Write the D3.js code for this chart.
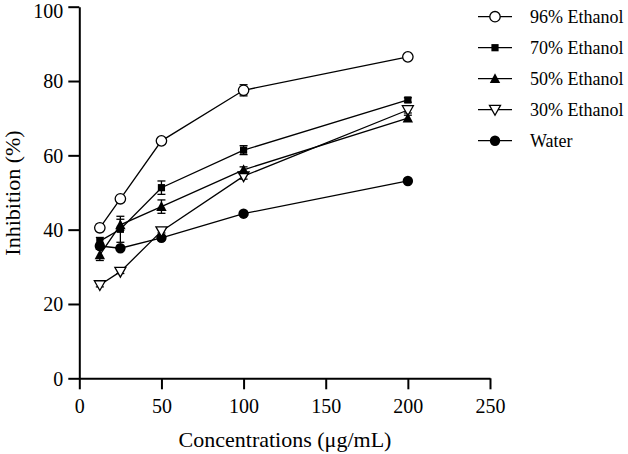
<!DOCTYPE html>
<html><head><meta charset="utf-8">
<script src="https://cdn.jsdelivr.net/npm/d3@7"></script>
<style>body{margin:0;background:#fff}svg{display:block}</style>
</head><body>
<script>
const concentrations = [12.5, 25, 50, 100, 200];
const seriesNames = ["96% Ethanol", "70% Ethanol", "50% Ethanol", "30% Ethanol", "Water"];
const eth96 = [40.5, 48.3, 63.9, 77.5, 86.5];
const eth70 = [36.9, 40.1, 51.3, 61.4, 74.9];
const eth50 = [33.2, 41.3, 46.2, 56.1, 70.0];
const eth30 = [25.1, 28.7, 39.6, 54.4, 72.2];
const water = [35.6, 35.0, 37.8, 44.3, 53.1];
const err96 = [1.0, 0.8, 0.8, 1.5, 0.6];
const err70 = [1.0, 3.5, 1.8, 1.2, 0.6];
const err50 = [1.5, 1.5, 1.8, 0.8, 0.8];
const err30 = [0.5, 0.5, 0.5, 0.8, 0.8];
const errW = [0.8, 0.5, 0.6, 0.5, 0.5];
const xTicks = [0, 50, 100, 150, 200, 250];
const yTicks = [0, 20, 40, 60, 80, 100];
const markers = ["circleOpen", "square", "triangle", "triangleDownOpen", "circle"];

const FONT = '"Liberation Serif","Times New Roman",serif';
const W = 628, H = 454;
const svg = d3.select("body").append("svg").attr("width", W).attr("height", H)
  .style("font-family", FONT);
const x = d3.scaleLinear().domain([0, 250]).range([79.3, 490]);
const y = d3.scaleLinear().domain([0, 100]).range([378.3, 6.7]);

const xa = svg.append("g").attr("transform", `translate(0,${y(0)})`)
  .call(d3.axisBottom(x).tickValues(xTicks).tickSize(11).tickPadding(10).tickSizeOuter(0));
const ya = svg.append("g").attr("transform", `translate(${x(0)},0)`)
  .call(d3.axisLeft(y).tickValues(yTicks).tickSize(11).tickPadding(5).tickSizeOuter(0));
[xa, ya].forEach(a => {
  a.attr("font-family", null).attr("font-size", null);
  a.selectAll("path,line").attr("stroke", "#000").attr("stroke-width", 2);
  a.selectAll("text").style("font-family", FONT).style("font-size", "20px").attr("fill", "#000");
});
ya.selectAll("text").attr("dy", "0.34em");
ya.selectAll(".tick").filter(d => d === 100).select("text").attr("dy", "0.52em");

svg.append("text").attr("x", 285).attr("y", 447).attr("text-anchor", "middle")
  .style("font-family", FONT).style("font-size", "22px").text("Concentrations (μg/mL)");
svg.append("text").attr("transform", "translate(20,193) rotate(-90)").attr("text-anchor", "middle")
  .style("font-family", FONT).style("font-size", "22px").text("Inhibition (%)");

function drawMarker(g, type, cx, cy) {
  if (type === "circleOpen") g.append("circle").attr("cx", cx).attr("cy", cy).attr("r", 5.2).attr("fill", "#fff").attr("stroke", "#000").attr("stroke-width", 1.3);
  else if (type === "circle") g.append("circle").attr("cx", cx).attr("cy", cy).attr("r", 5.2).attr("fill", "#000");
  else if (type === "square") g.append("rect").attr("x", cx - 3.6).attr("y", cy - 3.6).attr("width", 7.2).attr("height", 7.2).attr("fill", "#000");
  else if (type === "triangle") g.append("path").attr("d", `M${cx},${cy - 5.5} L${cx + 5.2},${cy + 4.3} L${cx - 5.2},${cy + 4.3}Z`).attr("fill", "#000");
  else if (type === "triangleDownOpen") g.append("path").attr("d", `M${cx - 5.5},${cy - 4.3} L${cx + 5.5},${cy - 4.3} L${cx},${cy + 5.5}Z`).attr("fill", "#fff").attr("stroke", "#000").attr("stroke-width", 1.3);
}

const allSeries = [eth96, eth70, eth50, eth30, water];
const allErr = [err96, err70, err50, err30, errW];
const line = d3.line().x((d, i) => x(concentrations[i])).y(d => y(d));
const plot = svg.append("g");
[4, 3, 2, 1, 0].forEach(s => {
  const g = plot.append("g");
  g.append("path").datum(allSeries[s]).attr("d", line).attr("fill", "none").attr("stroke", "#000").attr("stroke-width", 1.3);
  allSeries[s].forEach((v, i) => {
    const e = allErr[s][i], cx = x(concentrations[i]);
    g.append("line").attr("x1", cx).attr("x2", cx).attr("y1", y(v - e)).attr("y2", y(v + e)).attr("stroke", "#000").attr("stroke-width", 1.3);
    [v - e, v + e].forEach(t => g.append("line").attr("x1", cx - 4).attr("x2", cx + 4).attr("y1", y(t)).attr("y2", y(t)).attr("stroke", "#000").attr("stroke-width", 1.3));
  });
  allSeries[s].forEach((v, i) => drawMarker(g, markers[s], x(concentrations[i]), y(v)));
});

const leg = svg.append("g");
seriesNames.forEach((n, i) => {
  const ly = 16.7 + i * 31;
  leg.append("line").attr("x1", 478).attr("x2", 512).attr("y1", ly).attr("y2", ly).attr("stroke", "#000").attr("stroke-width", 1.3);
  drawMarker(leg, markers[i], 495, ly);
  leg.append("text").attr("x", 530).attr("y", ly).attr("dy", "0.35em")
    .style("font-family", FONT).style("font-size", "18px").text(n);
});
</script>
</body></html>
